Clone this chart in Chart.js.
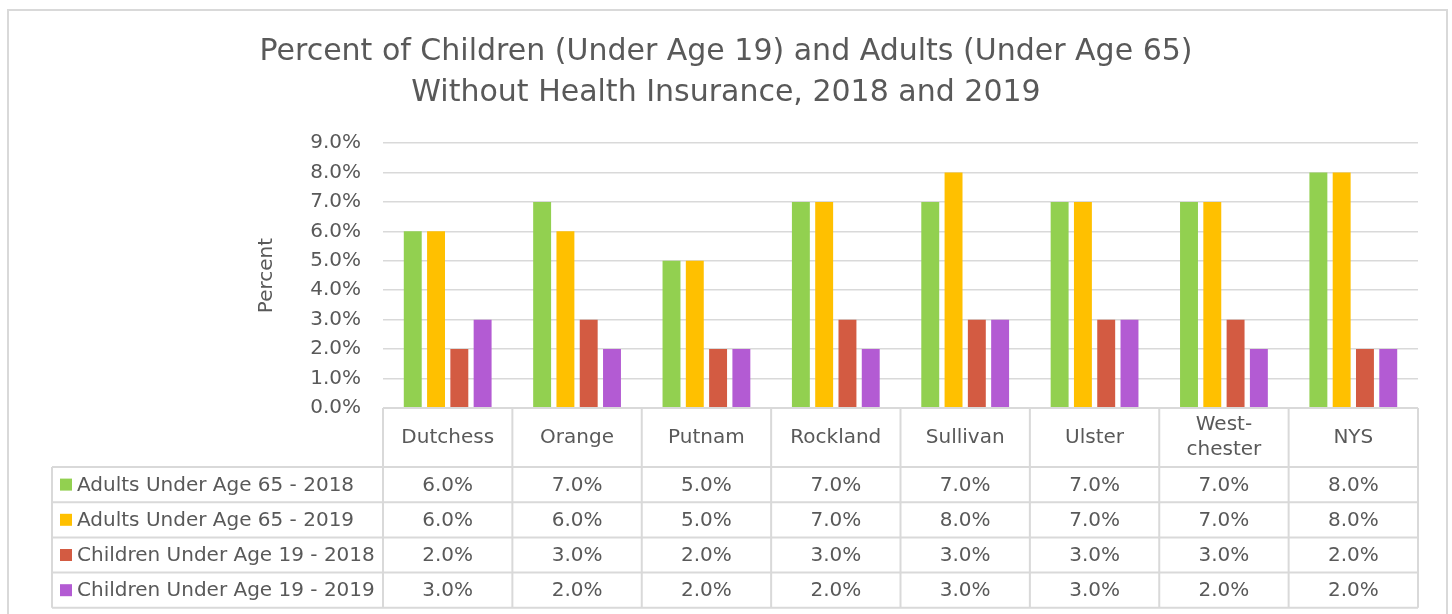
<!DOCTYPE html>
<html>
<head>
<meta charset="utf-8">
<script src="https://cdn.jsdelivr.net/npm/chart.js@4"></script>
<style>
	html, body { margin: 0; padding: 0; background: #ffffff; overflow: hidden; }
	.chart-wrap { position: relative; width: 1452px; height: 614px; }
</style>
</head>
<body>
<div class="chart-wrap"><canvas id="chart-1"></canvas></div>
<script>
const counties = ["Dutchess", "Orange", "Putnam", "Rockland", "Sullivan", "Ulster", ["West-", "chester"], "NYS"];
const adults2018 = [6, 7, 5, 7, 7, 7, 7, 8];
const adults2019 = [6, 6, 5, 7, 8, 7, 7, 8];
const children2018 = [2, 3, 2, 3, 3, 3, 3, 2];
const children2019 = [3, 2, 2, 2, 3, 3, 2, 2];
const seriesNames = ["Adults Under Age 65 - 2018", "Adults Under Age 65 - 2019", "Children Under Age 19 - 2018", "Children Under Age 19 - 2019"];
const seriesColors = ["#92D050", "#FFC000", "#D35B42", "#B35BD3"];
const titleLines = ["Percent of Children (Under Age 19) and Adults (Under Age 65)", "Without Health Insurance, 2018 and 2019"];

const textColor = "#595959";
const lineColor = "#D9D9D9";
const fontFamily = "'DejaVu Sans', sans-serif";
const textSize = 20;

Chart.defaults.font.family = fontFamily;
Chart.defaults.color = textColor;

const seriesValues = [adults2018, adults2019, children2018, children2019];

// outer frame of the chart object
const framePlugin = {
	id: "frame",
	beforeDraw(chart) {
		const ctx = chart.ctx;
		ctx.save();
		ctx.fillStyle = "#ffffff";
		ctx.fillRect(0, 0, chart.width, chart.height);
		ctx.strokeStyle = lineColor;
		ctx.lineWidth = 2;
		ctx.strokeRect(8, 10, 1439, 700);
		ctx.restore();
	}
};

// data table under the plot, columns follow the x scale
const tablePlugin = {
	id: "dataTable",
	afterDraw(chart) {
		const {ctx, chartArea} = chart;
		const x = chart.scales.x;
		const top = chartArea.bottom;
		const headerH = 59;
		const rowH = 35.2;
		const labelLeft = 52;
		const left = chartArea.left;
		const right = chartArea.right;
		const bottom = top + headerH + rowH * seriesNames.length;
		const colW = (right - left) / counties.length;

		ctx.save();
		ctx.strokeStyle = lineColor;
		ctx.lineWidth = 2;
		ctx.beginPath();
		for (let i = 0; i <= counties.length; i++) {
			const cx = left + i * colW;
			ctx.moveTo(cx, top);
			ctx.lineTo(cx, bottom);
		}
		ctx.moveTo(left, top);
		ctx.lineTo(right, top);
		for (let r = 0; r <= seriesNames.length; r++) {
			const y = top + headerH + r * rowH;
			ctx.moveTo(labelLeft, y);
			ctx.lineTo(right, y);
		}
		ctx.moveTo(labelLeft, top + headerH);
		ctx.lineTo(labelLeft, bottom);
		ctx.stroke();

		ctx.fillStyle = textColor;
		ctx.font = textSize + "px " + fontFamily;
		ctx.textAlign = "center";
		ctx.textBaseline = "middle";
		counties.forEach((name, i) => {
			const cx = x.getPixelForValue(i);
			const lines = Array.isArray(name) ? name : [name];
			const lh = 25;
			const y0 = top + headerH / 2 - (lines.length - 1) * lh / 2;
			lines.forEach((ln, k) => ctx.fillText(ln, cx, y0 + k * lh));
		});

		chart.data.datasets.forEach((ds, r) => {
			const cy = top + headerH + r * rowH + rowH / 2;
			ctx.fillStyle = ds.backgroundColor;
			ctx.fillRect(60, cy - 6, 12, 12);
			ctx.fillStyle = textColor;
			ctx.textAlign = "left";
			ctx.fillText(ds.label, 77, cy + 1);
			ctx.textAlign = "center";
			ds.data.forEach((v, i) => {
				ctx.fillText(v.toFixed(1) + "%", x.getPixelForValue(i), cy + 1);
			});
		});
		ctx.restore();
	}
};

new Chart("chart-1", {
	type: "bar",
	data: {
		labels: counties,
		datasets: seriesNames.map((name, i) => ({
			label: name,
			data: seriesValues[i],
			backgroundColor: seriesColors[i],
			categoryPercentage: 0.72,
			barPercentage: 0.77,
		})),
	},
	options: {
		responsive: true,
		maintainAspectRatio: false,
		animation: false,
		layout: { padding: { left: 34, right: 34, top: 0, bottom: 198 } },
		plugins: {
			legend: { display: false },
			tooltip: { enabled: false },
			title: {
				display: true,
				text: titleLines,
				color: textColor,
				font: { size: 30, weight: "normal", lineHeight: "41px" },
				padding: { top: 32, bottom: 29 },
			},
		},
		scales: {
			x: {
				ticks: { display: false },
				grid: { display: false },
				border: { display: false },
			},
			y: {
				min: 0,
				max: 9,
				ticks: {
					stepSize: 1,
					padding: 22,
					font: { size: textSize },
					color: textColor,
					callback: v => v.toFixed(1) + "%",
				},
				grid: { color: lineColor, lineWidth: 1.5, drawTicks: false },
				border: { display: false },
				title: {
					display: true,
					text: "Percent",
					color: textColor,
					font: { size: textSize },
					padding: { top: 221, bottom: 0 },
				},
				afterFit: scale => { scale.width = 349; },
			},
		},
	},
	plugins: [framePlugin, tablePlugin],
});
</script>
</body>
</html>
